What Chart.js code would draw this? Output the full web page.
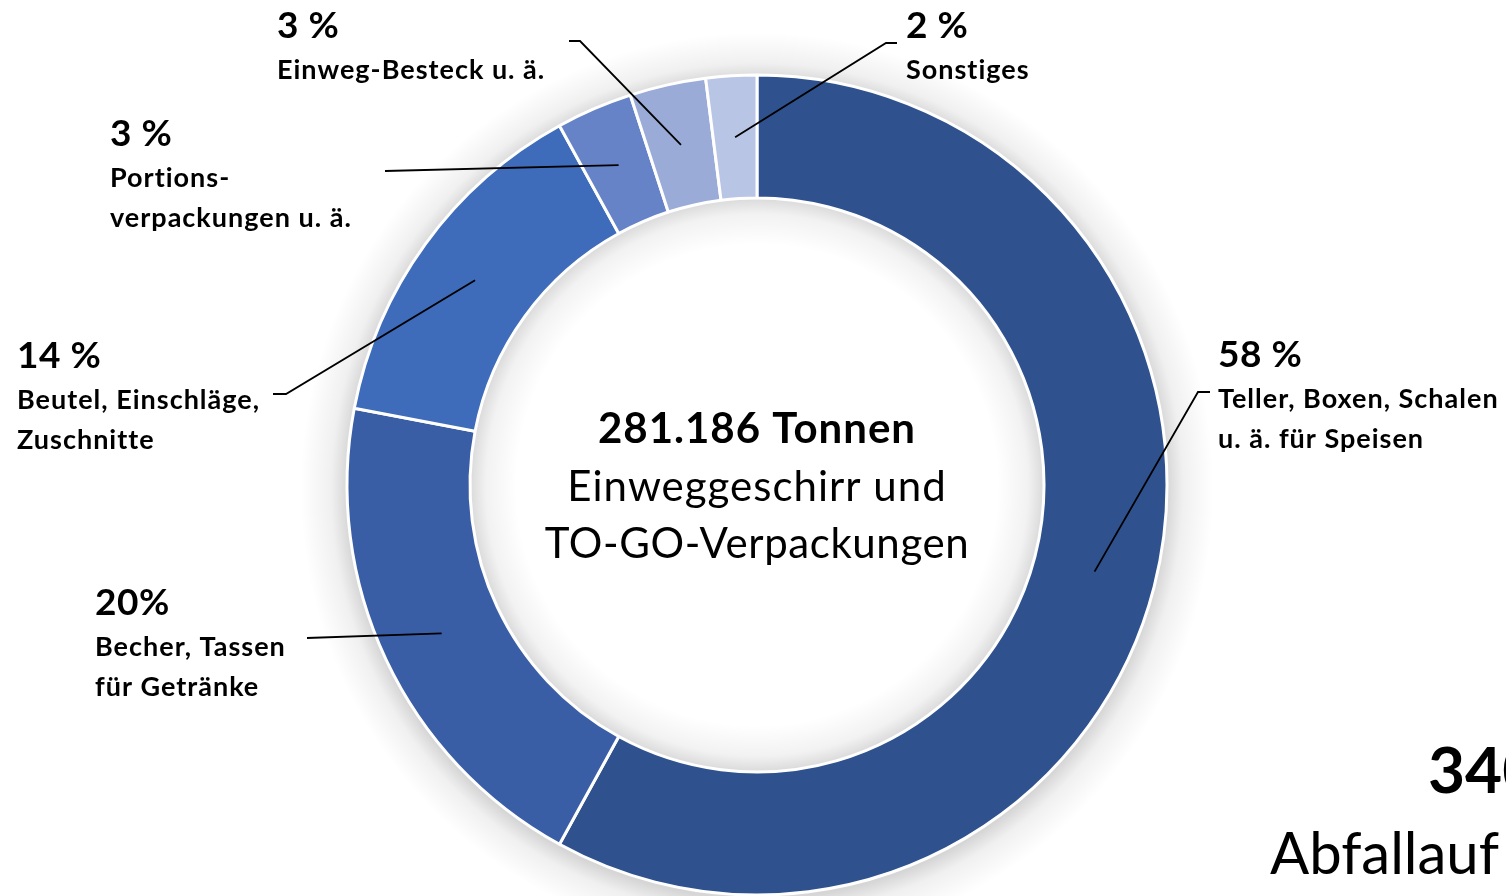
<!DOCTYPE html>
<html>
<head>
<meta charset="utf-8">
<script src="https://cdn.jsdelivr.net/npm/chart.js@4"></script>
<style>
html,body{margin:0;padding:0;background:#fff;overflow:hidden;}
canvas{display:block;}
</style>
</head>
<body>
<canvas id="c" width="1506" height="896"></canvas>
<script>
// ---- data ----
const categories = [
  'Teller, Boxen, Schalen u. ä. für Speisen',
  'Becher, Tassen für Getränke',
  'Beutel, Einschläge, Zuschnitte',
  'Portionsverpackungen u. ä.',
  'Einweg-Besteck u. ä.',
  'Sonstiges'
];
const shares = [58, 20, 14, 3, 3, 2];
const percentLabels = ['58 %', '20%', '14 %', '3 %', '3 %', '2 %'];
const labelLines = [
  ['Teller, Boxen, Schalen', 'u. ä. für Speisen'],
  ['Becher, Tassen', 'für Getränke'],
  ['Beutel, Einschläge,', 'Zuschnitte'],
  ['Portions-', 'verpackungen u. ä.'],
  ['Einweg-Besteck u. ä.'],
  ['Sonstiges']
];
const colors = ['#2F528F', '#3A5EA6', '#3E6BBA', '#6783C7', '#9AABD8', '#B9C5E5'];
const centerTitle = '281.186 Tonnen';
const centerLines = ['Einweggeschirr und', 'TO-GO-Verpackungen'];

// ---- layout of annotations ----
const labelPos = [
  {x: 1218, y: 367},
  {x: 95, y: 615},
  {x: 17, y: 368},
  {x: 110, y: 146},
  {x: 277, y: 38},
  {x: 906, y: 38}
];
const leaderStarts = [
  [[1210, 392], [1198, 392]],
  [[307, 638]],
  [[273, 394], [286, 394]],
  [[385, 171]],
  [[569, 41], [580, 41]],
  [[897, 43], [886, 43]]
];

const FONT = 'Lato, "Open Sans", sans-serif';

const shadowPlugin = {
  id: 'ringShadow',
  beforeDatasetsDraw(chart) {
    const arc = chart.getDatasetMeta(0).data[0];
    if (!arc) return;
    const {x, y, outerRadius, innerRadius} = arc.getProps(['x','y','outerRadius','innerRadius'], true);
    const ctx = chart.ctx;
    ctx.save();
    const ro = outerRadius + 1.5;
    let g = ctx.createRadialGradient(x, y + 4, ro - 2, x, y + 4, ro + 45);
    g.addColorStop(0, 'rgba(0,0,0,0.16)');
    g.addColorStop(0.35, 'rgba(0,0,0,0.06)');
    g.addColorStop(1, 'rgba(0,0,0,0)');
    ctx.fillStyle = g;
    ctx.beginPath();
    ctx.arc(x, y + 4, ro + 45, 0, Math.PI * 2);
    ctx.arc(x, y, ro - 2, 0, Math.PI * 2, true);
    ctx.fill();
    const ri = innerRadius - 1.5;
    g = ctx.createRadialGradient(x, y, ri - 45, x, y, ri + 2);
    g.addColorStop(0, 'rgba(0,0,0,0)');
    g.addColorStop(0.65, 'rgba(0,0,0,0.05)');
    g.addColorStop(1, 'rgba(0,0,0,0.15)');
    ctx.fillStyle = g;
    ctx.beginPath();
    ctx.arc(x, y, ri + 2, 0, Math.PI * 2);
    ctx.fill();
    ctx.restore();
  },
  afterDatasetsDraw(chart) {
    const ctx = chart.ctx;
    const meta = chart.getDatasetMeta(0);
    ctx.save();
    // leader lines
    ctx.strokeStyle = '#000';
    ctx.lineWidth = 1.8;
    meta.data.forEach((el, i) => {
      const p = el.tooltipPosition(true);
      const pts = leaderStarts[i];
      ctx.beginPath();
      ctx.moveTo(pts[0][0], pts[0][1]);
      for (let k = 1; k < pts.length; k++) ctx.lineTo(pts[k][0], pts[k][1]);
      ctx.lineTo(p.x, p.y);
      ctx.stroke();
    });
    // labels
    ctx.fillStyle = '#000';
    ctx.textAlign = 'left';
    ctx.textBaseline = 'alphabetic';
    labelPos.forEach((lp, i) => {
      ctx.letterSpacing = '0.5px';
      ctx.font = 'bold 37px ' + FONT;
      ctx.fillText(percentLabels[i], lp.x, lp.y);
      ctx.letterSpacing = '1px';
      ctx.font = 'bold 27px ' + FONT;
      labelLines[i].forEach((t, k) => ctx.fillText(t, lp.x, lp.y + 41 + k * 39.5));
    });
    // center text
    const cx = meta.data[0].x;
    ctx.textAlign = 'center';
    ctx.letterSpacing = '1px';
    ctx.font = 'bold 42px ' + FONT;
    ctx.fillText(centerTitle, cx, 443);
    ctx.font = '42px ' + FONT;
    ctx.fillText(centerLines[0], cx, 501);
    ctx.letterSpacing = '0.6px';
    ctx.fillText(centerLines[1], cx, 558);
    // cut-off text at bottom right
    ctx.letterSpacing = '0px';
    ctx.textAlign = 'left';
    ctx.font = 'bold 64px ' + FONT;
    ctx.fillText('340', 1428, 793);
    ctx.font = '58px ' + FONT;
    ctx.fillText('Abfallauf', 1270, 874);
    ctx.restore();
  }
};

new Chart(document.getElementById('c'), {
  type: 'doughnut',
  data: {
    labels: categories,
    datasets: [{
      data: shares,
      backgroundColor: colors,
      borderColor: '#ffffff',
      borderWidth: 3
    }]
  },
  options: {
    responsive: false,
    devicePixelRatio: 1,
    animation: false,
    cutout: '70%',
    radius: 410,
    layout: {padding: {left: 347, right: 339, top: 74, bottom: 0}},
    plugins: {legend: {display: false}, tooltip: {enabled: false}}
  },
  plugins: [shadowPlugin]
});
</script>
</body>
</html>
